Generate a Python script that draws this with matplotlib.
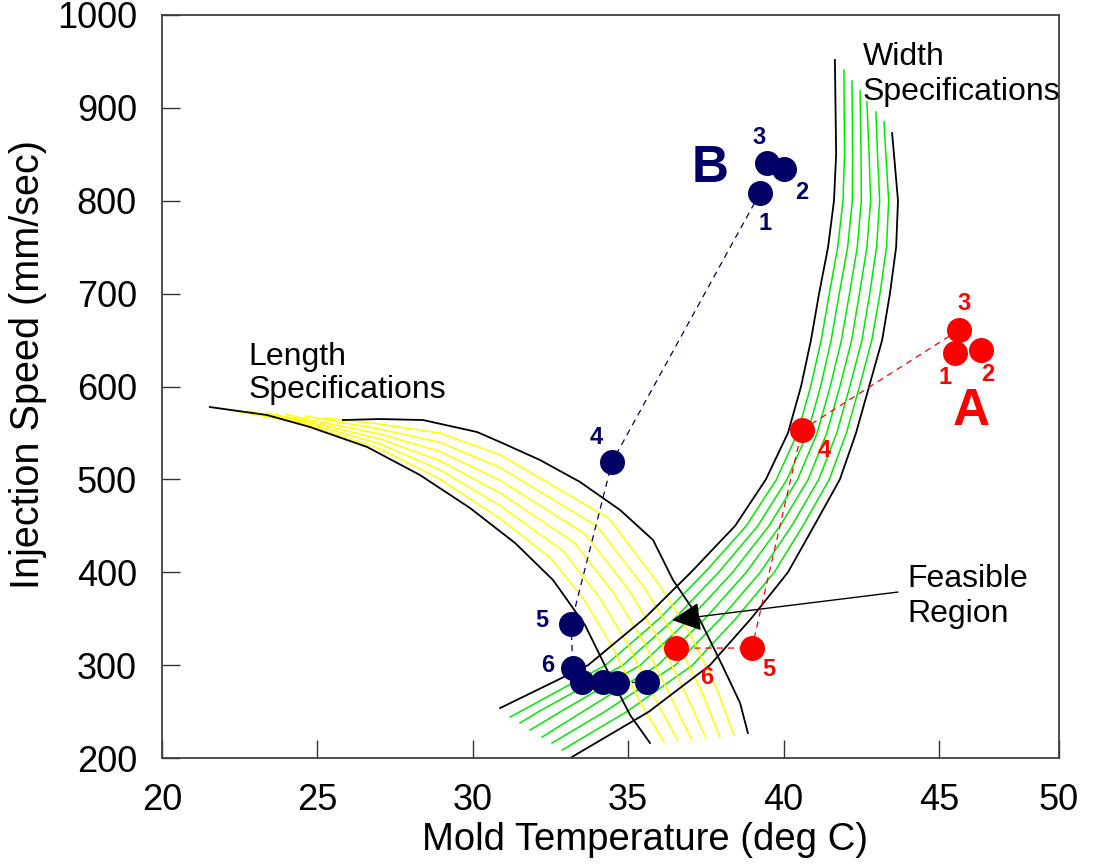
import matplotlib
matplotlib.use('Agg')
import matplotlib.pyplot as plt

plt.rcParams['font.family'] = ['Liberation Sans', 'DejaVu Sans']

NAVY = '#000066'
RED = '#ff0000'
GREEN = '#00ea00'
YELLOW = '#ffff00'

# ---- trial points (run order) ----
B_X = [39.24, 40.01, 39.47, 34.48, 33.16, 33.22, 33.51, 34.19, 34.64, 35.60]
B_Y = [808.3, 834.2, 840.6, 518.7, 344.3, 296.9, 281.8, 281.8, 280.8, 281.8]
B_PATH = [0, 3, 4, 5, 6, 7, 8, 9]
B_LABELS = ['1', '2', '3', '4', '5', '6']
B_LABEL_X = [39.40, 40.59, 39.21, 33.96, 32.23, 32.42]
B_LABEL_Y = [776.0, 809.4, 867.6, 545.6, 348.6, 300.1]

A_X = [45.51, 46.35, 45.64, 40.59, 38.98, 36.54]
A_Y = [636.1, 639.3, 660.8, 553.2, 318.4, 318.4]
A_PATH = [2, 3, 4, 5]
A_LABELS = ['1', '2', '3', '4', '5', '6']
A_LABEL_X = [45.19, 46.58, 45.80, 41.30, 39.53, 37.54]
A_LABEL_Y = [609.2, 612.4, 689.9, 531.6, 294.8, 287.2]

# ---- width specification band: x of each line at shared speed levels ----
WIDTH_LEVELS = [850, 800, 750, 700, 650, 600, 550, 500, 450, 400, 350, 300, 250]
WIDTH_X = [
    [41.69, 41.62, 41.43, 41.14, 40.88, 40.56, 40.14, 39.43, 38.44, 37.02, 35.51, 33.71, None],
    [41.96, 41.91, 41.74, 41.47, 41.21, 40.87, 40.45, 39.77, 38.80, 37.47, 36.00, 34.27, None],
    [42.22, 42.21, 42.06, 41.79, 41.53, 41.19, 40.77, 40.11, 39.17, 37.91, 36.49, 34.83, 32.12],
    [42.49, 42.50, 42.37, 42.12, 41.86, 41.50, 41.08, 40.45, 39.53, 38.36, 36.98, 35.39, 32.83],
    [42.75, 42.80, 42.68, 42.44, 42.19, 41.81, 41.39, 40.79, 39.89, 38.80, 37.47, 35.95, 33.54],
    [43.02, 43.09, 42.99, 42.77, 42.52, 42.13, 41.71, 41.13, 40.26, 39.25, 37.97, 36.51, 34.25],
    [43.29, 43.38, 43.31, 43.10, 42.84, 42.44, 42.02, 41.47, 40.62, 39.70, 38.46, 37.07, 34.96],
    [43.55, 43.68, 43.62, 43.42, 43.17, 42.75, 42.33, 41.81, 40.98, 40.14, 38.95, 37.63, 35.67],
]
WIDTH_TOP_X = [41.65, 41.94, 42.20, 42.46, 42.68, 42.97, 43.23, 43.49]
WIDTH_TOP_Y = [951.6, 940.8, 928.9, 918.2, 906.3, 895.6, 884.8, 872.9]
WIDTH_BOT_X = [30.88, 31.20, 31.52, 31.84, 32.23, 32.55, 32.87, 33.19]
WIDTH_BOT_Y = [253.8, 244.1, 237.7, 230.1, 222.6, 216.2, 208.6, 201.1]

# ---- length specification band: each line as (x, y) lists ----
LENGTH_X = [
    [21.54, 23.38, 24.76, 26.60, 28.30, 29.91, 31.36, 32.58, 33.61, 34.48, 35.06, 35.70],
    [22.16, 24.44, 27.01, 28.94, 30.88, 32.53, 33.60, 34.52, 35.39, 36.15],
    [22.77, 24.44, 27.01, 28.94, 30.88, 32.90, 34.07, 35.01, 35.88, 36.60],
    [23.38, 24.44, 27.01, 28.94, 30.88, 33.27, 34.55, 35.51, 36.37, 37.05],
    [23.99, 24.44, 27.01, 28.94, 30.88, 33.63, 35.02, 35.99, 36.86, 37.50],
    [24.60, 27.01, 28.94, 30.88, 34.00, 35.50, 36.49, 37.36, 37.95],
    [25.21, 27.01, 28.94, 30.88, 34.37, 35.97, 36.98, 37.85, 38.40],
    [25.82, 27.01, 28.40, 30.14, 30.88, 32.16, 33.45, 34.74, 35.80, 36.44, 37.31, 38.02, 38.60, 38.85],
]
LENGTH_Y = [
    [577.9, 569.3, 556.4, 534.9, 504.7, 469.2, 431.5, 391.7, 343.2, 284.0, 246.3, 216.2],
    [574.7, 561.2, 532.8, 500.4, 457.9, 414.4, 369.5, 317.9, 260.0, 217.2],
    [573.6, 562.9, 538.2, 510.3, 471.6, 423.2, 373.2, 321.2, 262.9, 218.3],
    [571.5, 564.5, 543.6, 520.2, 485.3, 431.9, 376.9, 324.5, 265.8, 219.4],
    [570.4, 566.2, 549.0, 530.1, 499.0, 440.8, 380.6, 327.8, 268.8, 221.5],
    [568.2, 554.2, 540.0, 512.8, 449.5, 384.2, 331.0, 271.7, 222.6],
    [566.2, 559.6, 549.9, 526.5, 458.3, 388.0, 334.4, 274.6, 224.8],
    [563.9, 565.0, 563.9, 551.0, 540.2, 520.9, 497.2, 467.0, 434.7, 391.7, 348.6, 300.1, 259.2, 226.9],
]

X_TICKS = [20, 25, 30, 35, 40, 45, 48.86]
X_TICKLABELS = ['20', '25', '30', '35', '40', '45', '50']
Y_TICKS = [200, 300, 400, 500, 600, 700, 800, 900, 1000]


def main():
    fig = plt.figure(figsize=(10.93, 8.67), dpi=100)
    ax = fig.add_axes([0.1482, 0.1257, 0.8207, 0.857])

    # width band
    for k, xs_lvl in enumerate(WIDTH_X):
        xs = [WIDTH_TOP_X[k]] + [x for x in xs_lvl if x is not None] + [WIDTH_BOT_X[k]]
        ys = [WIDTH_TOP_Y[k]] + [l for x, l in zip(xs_lvl, WIDTH_LEVELS) if x is not None] + [WIDTH_BOT_Y[k]]
        edge = k in (0, len(WIDTH_X) - 1)
        ax.plot(xs, ys, color='black' if edge else GREEN, lw=1.3 if edge else 1.1,
                zorder=2 if edge else 1, solid_joinstyle='round')

    # length band
    for k, (xs, ys) in enumerate(zip(LENGTH_X, LENGTH_Y)):
        edge = k in (0, len(LENGTH_X) - 1)
        ax.plot(xs, ys, color='black' if edge else YELLOW, lw=1.3 if edge else 1.1,
                zorder=2 if edge else 1, solid_joinstyle='round')

    # trial paths
    ax.plot([B_X[i] for i in B_PATH], [B_Y[i] for i in B_PATH], color=NAVY, lw=0.9, dashes=(5, 4), zorder=3)
    ax.plot([A_X[i] for i in A_PATH], [A_Y[i] for i in A_PATH], color=RED, lw=0.9, dashes=(5, 4), zorder=3)
    ax.plot(B_X, B_Y, 'o', color=NAVY, ms=18, mec='none', zorder=4)
    ax.plot(A_X, A_Y, 'o', color=RED, ms=18, mec='none', zorder=4)

    for t, x, y in zip(B_LABELS, B_LABEL_X, B_LABEL_Y):
        ax.text(x, y, t, color=NAVY, fontsize=17, fontweight='bold', ha='center', va='center', zorder=5)
    for t, x, y in zip(A_LABELS, A_LABEL_X, A_LABEL_Y):
        ax.text(x, y, t, color=RED, fontsize=17, fontweight='bold', ha='center', va='center', zorder=5)
    ax.text(37.63, 835.0, 'B', color=NAVY, fontsize=37, fontweight='bold', ha='center', va='center', zorder=5)
    ax.text(46.03, 573.0, 'A', color=RED, fontsize=37, fontweight='bold', ha='center', va='center', zorder=5)

    # annotations
    ax.text(42.55, 946.2, 'Width', fontsize=23, va='baseline')
    ax.text(42.55, 908.5, 'Specifications', fontsize=23, va='baseline')
    ax.text(22.77, 623.2, 'Length', fontsize=23, va='baseline')
    ax.text(22.77, 587.6, 'Specifications', fontsize=23, va='baseline')
    ax.text(43.97, 384.1, 'Feasible', fontsize=23, va='baseline')
    ax.text(43.97, 346.4, 'Region', fontsize=23, va='baseline')
    ax.annotate('', xy=(36.41, 348.6), xytext=(43.68, 378.7),
                arrowprops=dict(arrowstyle='-|>,head_length=0.9,head_width=0.45',
                                mutation_scale=20, color='black', lw=1.0, shrinkA=0, shrinkB=0),
                zorder=5)

    ax.set_xlim(20, 48.86)
    ax.set_ylim(200, 1000)
    ax.set_xticks(X_TICKS)
    ax.set_xticklabels(X_TICKLABELS)
    ax.set_yticks(Y_TICKS)
    ax.tick_params(direction='in', length=13, width=1.0, labelsize=26, pad=18, color='#333333')
    for s in ax.spines.values():
        s.set_color('#404040')
        s.set_linewidth(1.3)

    ax.set_xlabel('Mold Temperature (deg C)', fontsize=27.5)
    ax.set_ylabel('Injection Speed (mm/sec)', fontsize=28.5)
    ax.xaxis.set_label_coords(0.538, -0.086)
    ax.yaxis.set_label_coords(-0.128, 0.529)

    fig.savefig('out.png', dpi=100)


if __name__ == '__main__':
    main()
